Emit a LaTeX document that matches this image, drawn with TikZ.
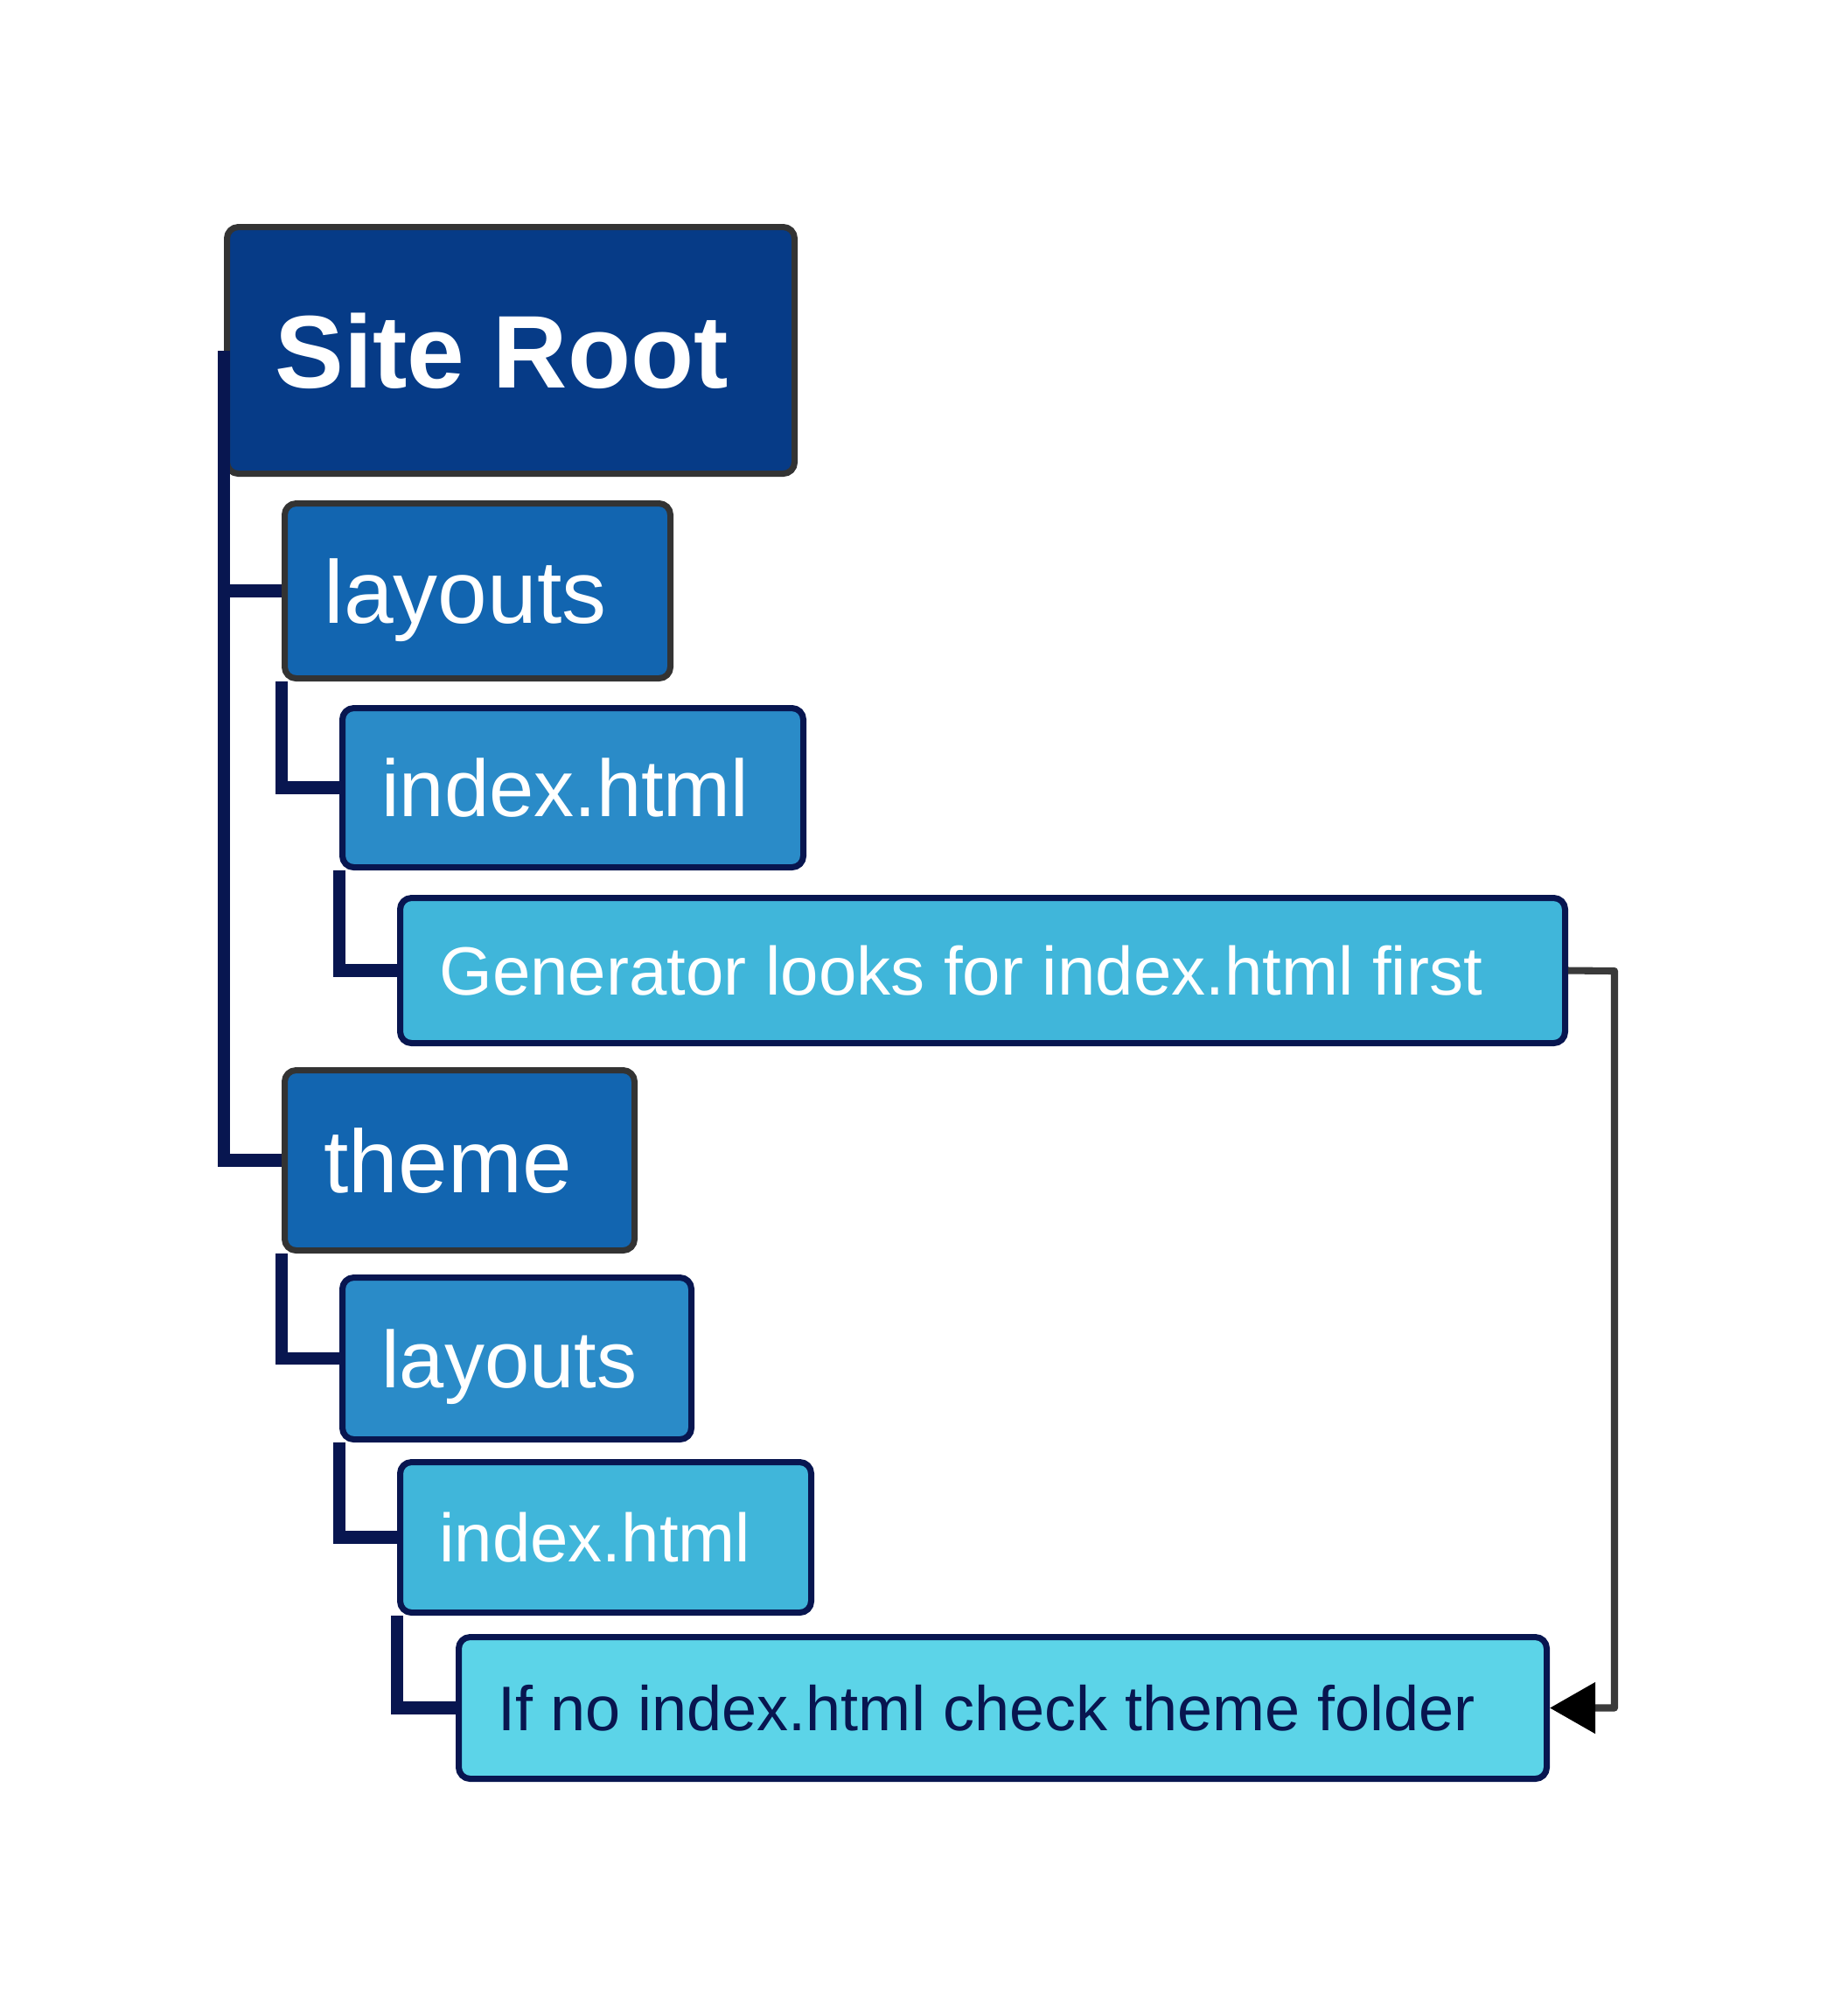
\documentclass[tikz,border=0pt]{standalone}
\usepackage{fontspec}
\setmainfont{Liberation Sans}
\usetikzlibrary{arrows.meta}
\definecolor{rootblue}{HTML}{063B87}
\definecolor{dirblue}{HTML}{1265B0}
\definecolor{subblue}{HTML}{2A8BC8}
\definecolor{fileblue}{HTML}{40B6DA}
\definecolor{noteblue}{HTML}{5CD4E8}
\definecolor{navy}{HTML}{081650}
\definecolor{edgegray}{HTML}{333333}
\definecolor{flowgray}{HTML}{3A3A3A}
\begin{document}
\begin{tikzpicture}[x=1cm, y=-1cm, line join=round,
    box/.style={draw, rounded corners=3.7pt, line width=2pt, anchor=north west,
        align=flush left, inner xsep=0.45cm, inner ysep=0pt, text depth=0pt, text=white},
    tree/.style={draw=navy, line width=4.2pt, line join=miter},
    flow/.style={draw=flowgray, line width=2.3pt, line join=round,
        -{Triangle[length=14.8pt,width=16.2pt,color=black]}}]
                \useasboundingbox (0,0) rectangle (21.13,22.91);
                \def \sa{\fontsize{29pt}{34pt}\selectfont} % layouts, theme
                \def \sb{\fontsize{26.2pt}{31pt}\selectfont}
                \def \sc{\fontsize{22.2pt}{27pt}\selectfont}
                \node[box, fill=rootblue, draw=edgegray, inner xsep=0.55cm, text width=5.39cm, minimum height=2.82cm,
                    font=\fontsize{33.6pt}{40pt}\selectfont\bfseries] (root) at (2.56,2.56) {Site Root};
                \node[box, fill=dirblue, draw=edgegray, text width=3.51cm, minimum height=2.00cm, font=\sa] (lay) at (3.22,5.72) {layouts};
                \node[box, fill=subblue, draw=navy, text width=4.37cm, minimum height=1.82cm, font=\sb] (idx) at (3.88,8.06) {index.html};
                \node[box, fill=fileblue, draw=navy, text width=12.42cm, minimum height=1.66cm, font=\sc] (gen) at (4.54,10.23) {Generator looks for index.html first};
                \node[box, fill=dirblue, draw=edgegray, text width=3.10cm, minimum height=2.06cm, font=\sa] (theme) at (3.22,12.20) {theme};
                \node[box, fill=subblue, draw=navy, text width=3.09cm, minimum height=1.85cm, font=\sb] (tlay) at (3.88,14.57) {layouts};
                \node[box, fill=fileblue, draw=navy, text width=3.80cm, minimum height=1.72cm, font=\sc] (tidx) at (4.54,16.68) {index.html};
                \node[box, fill=noteblue, draw=navy, text=navy, text width=11.54cm, minimum height=1.62cm,
                    font=\fontsize{20.5pt}{25pt}\selectfont] (check) at (5.21,18.68) {If no index.html check theme folder};
                \draw[tree] (root.west) |- (lay.west) (root.west) |- (theme.west);
                \foreach \a/\b in {lay/idx, idx/gen, theme/tlay, tlay/tidx, tidx/check}
                    \draw[tree] (\a.south west) |- (\b.west);
                \coordinate (bend) at (18.46,11.10);
                \draw[flow] (gen.east) -- (bend) |- (check.east);
            \end{tikzpicture}
\end{document}
